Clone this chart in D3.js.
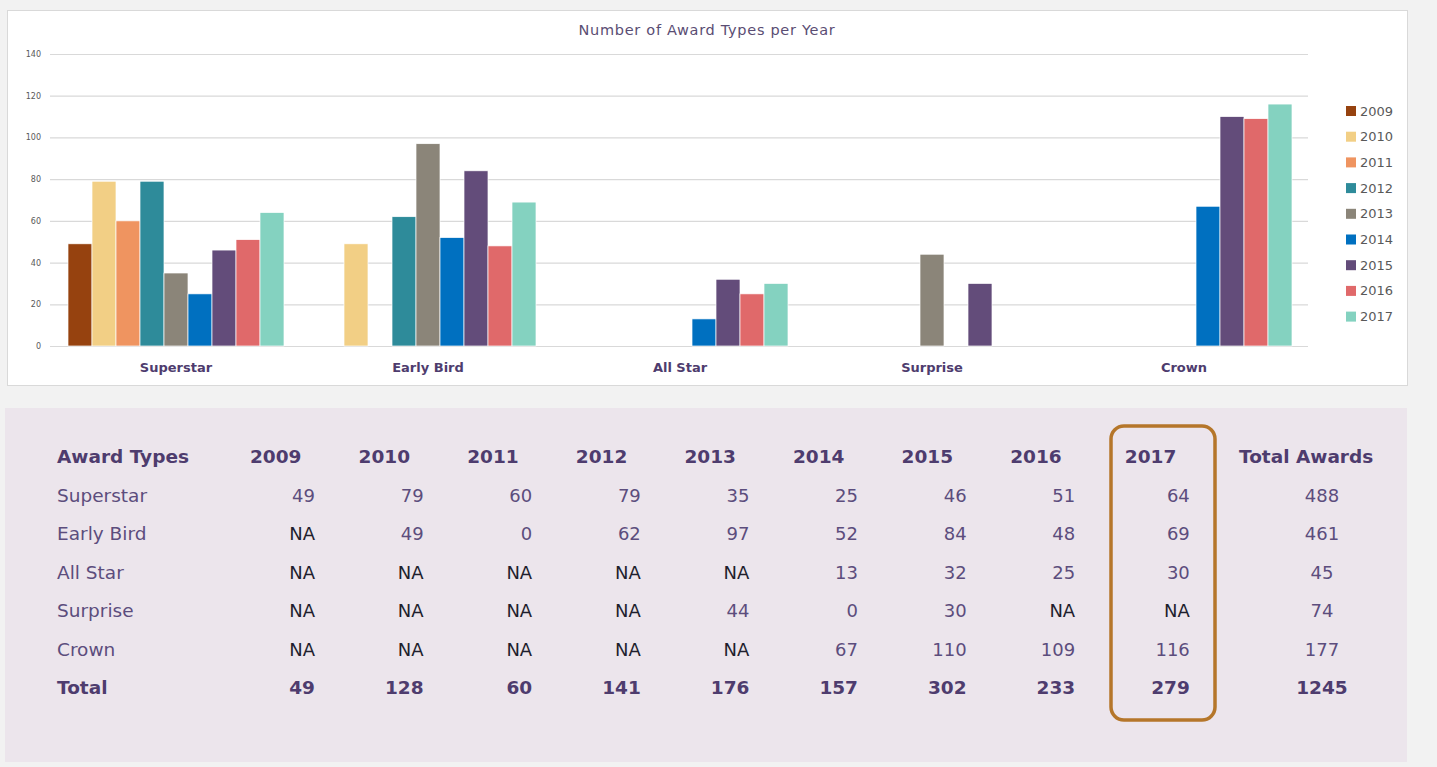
<!DOCTYPE html>
<html>
<head>
<meta charset="utf-8">
<script src="https://cdn.jsdelivr.net/npm/d3@7"></script>
<style>
  body { margin: 0; background: #f2f2f2; }
  svg { display: block; font-family: "DejaVu Sans", sans-serif; }
</style>
</head>
<body>
<div id="staticBody"></div>
<script>
// data
var awardTypes = ["Superstar", "Early Bird", "All Star", "Surprise", "Crown"];
var years = ["2009", "2010", "2011", "2012", "2013", "2014", "2015", "2016", "2017"];
// null = NA in the table
var superstar = [49, 79, 60, 79, 35, 25, 46, 51, 64];
var earlyBird = [null, 49, 0, 62, 97, 52, 84, 48, 69];
var allStar   = [null, null, null, null, null, 13, 32, 25, 30];
var surprise  = [null, null, null, null, 44, 0, 30, null, null];
var crown     = [null, null, null, null, null, 67, 110, 109, 116];
var rowTotals = [488, 461, 45, 74, 177];
var yearTotals = [49, 128, 60, 141, 176, 157, 302, 233, 279];
var grandTotal = 1245;
var yTicks = [0, 20, 40, 60, 80, 100, 120, 140];
var yearColors = ["#96420f", "#f2cf85", "#ef9460", "#2e8b9a", "#8b8579", "#0070c0", "#634c7a", "#e0696a", "#84d2c0"];

var series = [superstar, earlyBird, allStar, surprise, crown];

var W = 1437, H = 767;
var svg = d3.select("#staticBody").append("svg")
  .attr("width", W)
  .attr("height", H);

svg.append("rect").attr("width", W).attr("height", H).attr("fill", "#f2f2f2");

// chart panel
svg.append("rect")
  .attr("x", 7.5).attr("y", 10.5).attr("width", 1400).attr("height", 375)
  .attr("fill", "#fff").attr("stroke", "#d9d9d9");

svg.append("text")
  .attr("x", 707).attr("y", 30)
  .attr("dy", "0.35em")
  .attr("text-anchor", "middle")
  .style("font-size", "14.5px")
  .style("letter-spacing", "0.7px")
  .style("fill", "#5a4d73")
  .text("Number of Award Types per Year");

var plot = { left: 50, right: 1310, top: 54, bottom: 346 };

var y = d3.scaleLinear()
  .domain([0, 140])
  .range([plot.bottom, plot.top]);

var x0 = d3.scaleBand()
  .domain(awardTypes)
  .range([plot.left, plot.right]);

var x1 = d3.scaleBand()
  .domain(years)
  .range([0, x0.bandwidth()])
  .paddingOuter(0.75);

var color = d3.scaleOrdinal().domain(years).range(yearColors);

// gridlines + y tick labels
var yAxis = svg.append("g")
  .attr("transform", "translate(" + plot.left + ",0)")
  .call(d3.axisLeft(y).tickValues(yTicks).tickSize(-(plot.right - plot.left - 2)).tickPadding(9));
yAxis.select(".domain").remove();
yAxis.selectAll("line").attr("stroke", "#d9d9d9").attr("stroke-width", 1.2);
yAxis.selectAll("text")
  .style("font-size", "8px")
  .style("fill", "#595959")
  .style("font-family", "DejaVu Sans, sans-serif");

// bars
var groups = svg.selectAll("g.award")
  .data(awardTypes)
  .enter().append("g")
  .attr("class", "award")
  .attr("transform", function(d) { return "translate(" + x0(d) + ",0)"; });

groups.selectAll("rect")
  .data(function(d, i) {
    return years.map(function(yr, j) { return { year: yr, value: series[i][j] }; })
      .filter(function(e) { return e.value; });
  })
  .enter().append("rect")
  .attr("x", function(d) { return x1(d.year); })
  .attr("width", x1.bandwidth())
  .attr("y", function(d) { return y(d.value); })
  .attr("height", function(d) { return y(0) - y(d.value); })
  .attr("fill", function(d) { return color(d.year); })
  .attr("stroke", "#fff")
  .attr("stroke-width", 0.7);

// category labels
var xAxis = svg.append("g")
  .attr("transform", "translate(0," + plot.bottom + ")")
  .call(d3.axisBottom(x0).tickSize(0).tickPadding(17));
xAxis.select(".domain").remove();
xAxis.selectAll("text")
  .style("font-size", "13px")
  .style("font-weight", "bold")
  .style("fill", "#4e3c6e")
  .style("font-family", "DejaVu Sans, sans-serif");

// legend
var legend = svg.selectAll("g.legend")
  .data(years)
  .enter().append("g")
  .attr("class", "legend")
  .attr("transform", function(d, i) { return "translate(1346," + (111 + i * 25.7) + ")"; });
legend.append("rect")
  .attr("x", 0).attr("y", -5).attr("width", 10).attr("height", 10)
  .attr("fill", function(d) { return color(d); });
legend.append("text")
  .attr("x", 14).attr("dy", "0.35em")
  .style("font-size", "13px")
  .style("fill", "#595959")
  .text(function(d) { return d; });

// table panel
svg.append("rect")
  .attr("x", 5).attr("y", 408).attr("width", 1402).attr("height", 354)
  .attr("fill", "#ece5ec");

var col = d3.scaleBand()
  .domain(years)
  .range([250, 250 + 9 * 108.6]);
// the highlighted 2017 column sits a little further right
function colX(yr) { return col(yr) + (yr === "2017" ? 6 : 0); }

var rowY = d3.scalePoint()
  .domain(["head"].concat(awardTypes).concat(["Total"]))
  .range([457, 688]);

var table = svg.append("g").attr("class", "table");
var purpleDark = "#4e3c6e", purple = "#5c4d7d", naColor = "#1f1f2e";

// header
table.append("text")
  .attr("x", 57).attr("y", rowY("head")).attr("dy", "0.35em")
  .style("font-size", "18.5px").style("font-weight", "bold").style("fill", purpleDark)
  .text("Award Types");
table.selectAll("text.yh")
  .data(years)
  .enter().append("text")
  .attr("class", "yh")
  .attr("x", function(d) { return colX(d); })
  .attr("y", rowY("head")).attr("dy", "0.35em")
  .style("font-size", "18.5px").style("font-weight", "bold").style("fill", purpleDark)
  .text(function(d) { return d; });
table.append("text")
  .attr("x", 1239).attr("y", rowY("head")).attr("dy", "0.35em")
  .style("font-size", "18.5px").style("font-weight", "bold").style("fill", purpleDark)
  .text("Total Awards");

// body rows
awardTypes.forEach(function(a, i) {
  var ry = rowY(a);
  table.append("text")
    .attr("x", 57).attr("y", ry).attr("dy", "0.35em")
    .style("font-size", "18.5px").style("fill", purple)
    .text(a);
  table.selectAll("text.v" + i)
    .data(series[i])
    .enter().append("text")
    .attr("class", "v" + i)
    .attr("x", function(d, j) { return colX(years[j]) + 65; })
    .attr("y", ry).attr("dy", "0.35em")
    .attr("text-anchor", "end")
    .style("font-size", "18px")
    .style("fill", function(d) { return d === null ? naColor : purple; })
    .text(function(d) { return d === null ? "NA" : d; });
  table.append("text")
    .attr("x", 1322).attr("y", ry).attr("dy", "0.35em")
    .attr("text-anchor", "middle")
    .style("font-size", "18px").style("fill", purple)
    .text(rowTotals[i]);
});

// totals row
table.append("text")
  .attr("x", 57).attr("y", rowY("Total")).attr("dy", "0.35em")
  .style("font-size", "18.5px").style("font-weight", "bold").style("fill", purpleDark)
  .text("Total");
table.selectAll("text.tot")
  .data(yearTotals)
  .enter().append("text")
  .attr("class", "tot")
  .attr("x", function(d, j) { return colX(years[j]) + 65; })
  .attr("y", rowY("Total")).attr("dy", "0.35em")
  .attr("text-anchor", "end")
  .style("font-size", "18.5px").style("font-weight", "bold").style("fill", purpleDark)
  .text(function(d) { return d; });
table.append("text")
  .attr("x", 1322).attr("y", rowY("Total")).attr("dy", "0.35em")
  .attr("text-anchor", "middle")
  .style("font-size", "18.5px").style("font-weight", "bold").style("fill", purpleDark)
  .text(grandTotal);

// highlight around 2017 column
svg.append("rect")
  .attr("x", 1111).attr("y", 426).attr("width", 104).attr("height", 294)
  .attr("rx", 13).attr("ry", 13)
  .attr("fill", "none")
  .attr("stroke", "#b5762a")
  .attr("stroke-width", 3.5);
</script>
</body>
</html>
